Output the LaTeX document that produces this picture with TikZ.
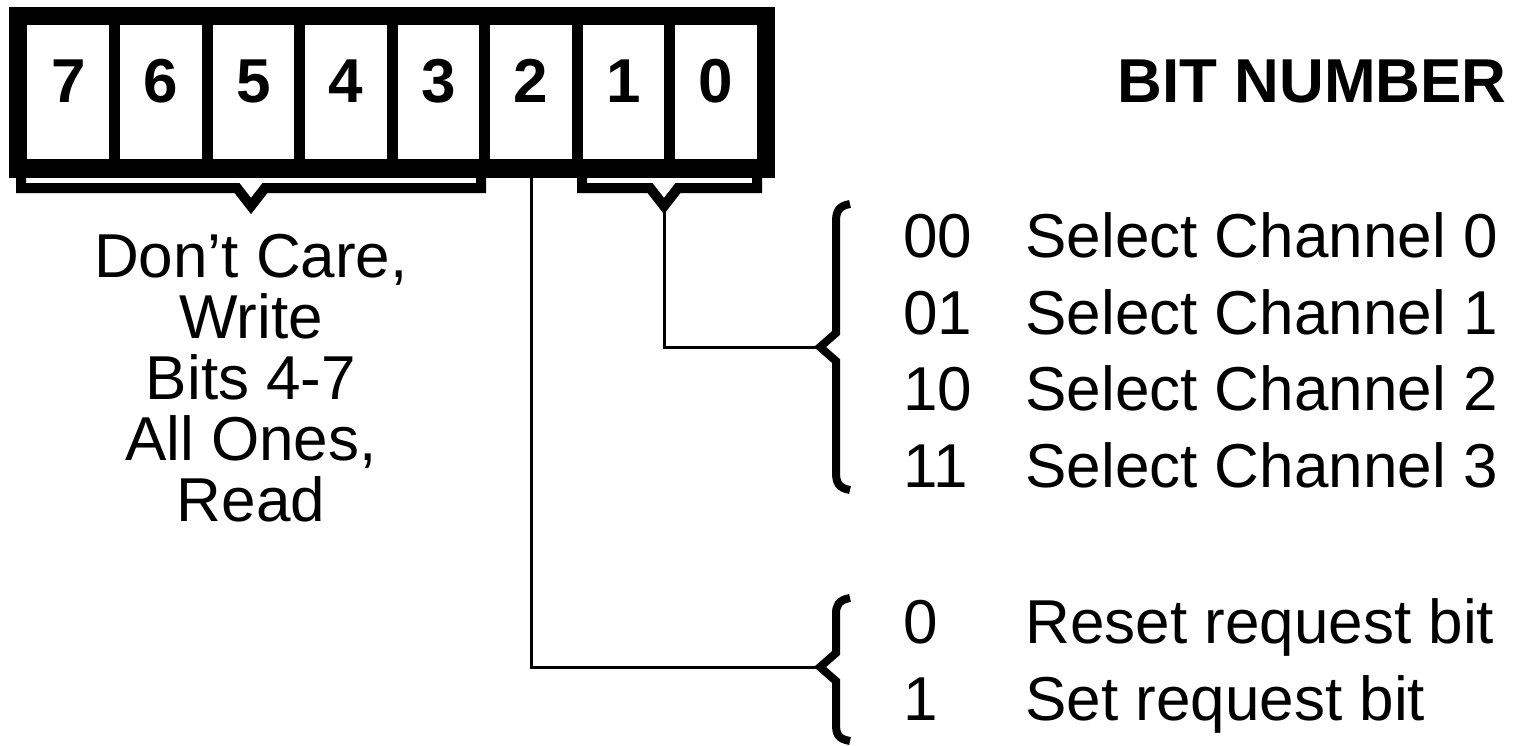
\documentclass[tikz,border=0pt]{standalone}
\usepackage{fontspec}
\setmainfont{Liberation Sans}
\usetikzlibrary{positioning,fit,backgrounds,calc}

\begin{document}
\begin{tikzpicture}[x=0.5pt,y=-0.5pt,node distance=5pt,every node/.style={font=\fontsize{31}{30.5}\selectfont},cell/.style={fill=white,inner sep=0pt,minimum width=40.875pt,minimum height=67pt,text height=22.5pt,text depth=12.5pt,font=\fontsize{31}{30.5}\selectfont\bfseries},hbrace/.style={line width=5pt},vbrace/.style={line width=4pt},wire/.style={line width=1.5pt},code/.style={anchor=base west,inner sep=0pt}]
        \useasboundingbox (0,0) rectangle (1521,745);
        % register cells
        \node[cell,anchor=north west] (b7) at (27,25) {7};
        \node[cell,right=of b7] (b6) {6};
        \node[cell,right=of b6] (b5) {5};
        \node[cell,right=of b5] (b4) {4};
        \node[cell,right=of b4] (b3) {3};
        \node[cell,right=of b3] (b2) {2};
        \node[cell,right=of b2] (b1) {1};
        \node[cell,right=of b1] (b0) {0};
        \begin{scope}[on background layer]
          \node[fit=(b7)(b0),fill=black,inner sep=9pt] (reg) {};
        \end{scope}
        \node[anchor=base east,inner sep=0pt,font=\fontsize{31}{30.5}\selectfont\bfseries] (title) at (1507,102) {BIT NUMBER};
        % braces under the register
        \draw[hbrace] (21,168) -- (21,188) -- (237,188) -- (251,206) -- (265,188) -- (481,188) -- (481,168);
        \draw[hbrace] (582,168) -- (582,188) -- (650,188) -- (664,206) -- (678,188) -- (757,188) -- (757,168);
        \coordinate (tipL) at (251,206);
        \coordinate (tipR) at (664,206);
        \node[anchor=north,align=center,inner sep=0pt] (note) at (tipL |- 0,234) {Don’t Care,\\Write\\Bits 4-7\\All Ones,\\Read};
        % channel select brace
        \draw[vbrace] (850,204) .. controls (838,206) and (836,212) .. (836,222) -- (836,333) -- (820,347) -- (836,361) -- (836,472) .. controls (836,482) and (838,488) .. (850,490);
        \coordinate (tipU) at (820,347);
        \node[code] (c00) at (903,257) {00};
        \node[code] (c01) at (903,334) {01};
        \node[code] (c10) at (903,410) {10};
        \node[code] (c11) at (903,487) {11};
        \node[code] (s0) at (1025,257) {Select Channel 0};
        \node[code] (s1) at (1025,334) {Select Channel 1};
        \node[code] (s2) at (1025,410) {Select Channel 2};
        \node[code] (s3) at (1025,487) {Select Channel 3};
        % request bit brace
        \draw[vbrace] (850,598) .. controls (838,600) and (836,606) .. (836,614) -- (836,653) -- (820,667) -- (836,681) -- (836,724) .. controls (836,734) and (838,739) .. (850,741);
        \coordinate (tipD) at (820,667);
        \node[code] (r0) at (903,643) {0};
        \node[code] (r1) at (903,720) {1};
        \node[code] (reset) at (1025,643) {Reset request bit};
        \node[code] (set) at (1025,720) {Set request bit};
        % connectors
        \draw[wire] (tipR) |- (tipU);
        \draw[wire] (b2.south) |- (tipD);
      \end{tikzpicture}
\end{document}
